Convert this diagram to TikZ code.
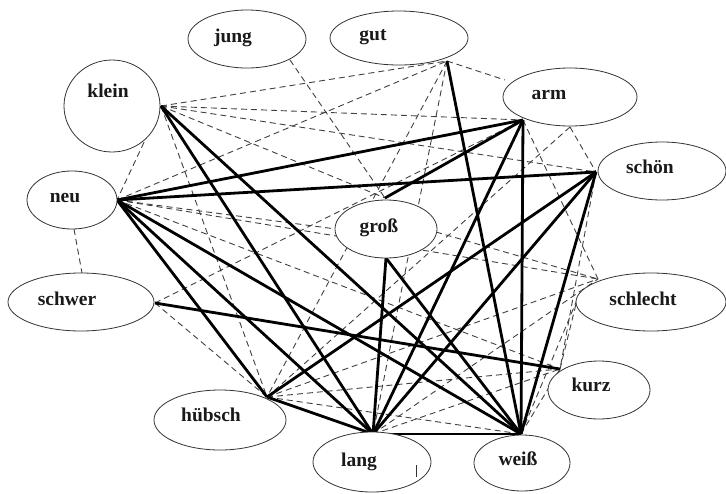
\documentclass[tikz,border=0pt]{standalone}
\usepackage{fontspec}
\setmainfont{Liberation Serif}
\usetikzlibrary{shapes.geometric}
\begin{document}
\begin{tikzpicture}[x=1pt,y=-1pt,
  bubble/.style={ellipse, draw=black!80, line width=0.8pt, fill=white, inner sep=0pt},
  word/.style={font=\fontsize{19.5}{21}\selectfont\bfseries, inner sep=0pt, anchor=base, text=black!90},
  strong/.style={line width=2.8pt, black},
  weak/.style={line width=0.9pt, black!75, dash pattern=on 6pt off 4pt}]
\useasboundingbox (0,0) rectangle (726,493);
% hub points
\coordinate (kleinH) at (161,106);
\coordinate (neuH) at (117,200);
\coordinate (neuB) at (74,229);
\coordinate (jungH) at (290,60);
\coordinate (gutH) at (447,61);
\coordinate (armH) at (523,120);
\coordinate (armB) at (570,127);
\coordinate (armL) at (505,80);
\coordinate (schoenH) at (596,172);
\coordinate (grossT) at (385,198);
\coordinate (grossB) at (386,258);
\coordinate (grossL) at (336,229);
\coordinate (grossR) at (436,232);
\coordinate (schwerH) at (155,303);
\coordinate (schwerT) at (82,273);
\coordinate (schlechtH) at (598,279);
\coordinate (schlechtL) at (577,300);
\coordinate (kurzH) at (560,369);
\coordinate (huebschH) at (267,397);
\coordinate (langH) at (373,434);
\coordinate (weissH) at (521,434);
% dashed connectors
\draw[weak] (kleinH) -- (neuH);
\draw[weak] (kleinH) -- (gutH);
\draw[weak] (kleinH) -- (armH);
\draw[weak] (kleinH) -- (schoenH);
\draw[weak] (kleinH) -- (grossT);
\draw[weak] (kleinH) -- (huebschH);
\draw[weak] (neuB) -- (schwerT);
\draw[weak] (neuH) -- (gutH);
\draw[weak] (neuH) -- (grossL);
\draw[weak] (neuH) -- (schlechtH);
\draw[weak] (neuH) -- (kurzH);
\draw[weak] (jungH) -- (grossT);
\draw[weak] (gutH) -- (armL);
\draw[weak] (gutH) -- (huebschH);
\draw[weak] (gutH) -- (langH);
\draw[weak] (armB) -- (schoenH);
\draw[weak] (armH) -- (schlechtH);
\draw[weak] (armB) -- (huebschH);
\draw[weak] (schwerH) -- (armH);
\draw[weak] (schoenH) -- (kurzH);
\draw[weak] (grossR) -- (schlechtH);
\draw[weak] (schwerH) -- (huebschH);
\draw[weak] (huebschH) -- (weissH);
\draw[weak] (huebschH) -- (kurzH);
\draw[weak] (huebschH) -- (schlechtH);
\draw[weak] (langH) -- (kurzH);
\draw[weak] (langH) -- (schlechtH);
\draw[weak] (weissH) -- (kurzH);
\draw[weak] (weissH) -- (schlechtL);
\draw[weak] (kurzH) -- (schlechtL);
% thick connectors
\draw[strong] (kleinH) -- (langH);
\draw[strong] (kleinH) -- (weissH);
\draw[strong] (neuH) -- (armH);
\draw[strong] (neuH) -- (schoenH);
\draw[strong] (neuH) -- (huebschH);
\draw[strong] (neuH) -- (langH);
\draw[strong] (neuH) -- (weissH);
\draw[strong] (gutH) -- (weissH);
\draw[strong] (armH) -- (grossT);
\draw[strong] (armH) -- (langH);
\draw[strong] (armH) -- (weissH);
\draw[strong] (schoenH) -- (huebschH);
\draw[strong] (schoenH) -- (langH);
\draw[strong] (schoenH) -- (weissH);
\draw[strong] (grossB) -- (langH);
\draw[strong] (grossB) -- (weissH);
\draw[strong] (schwerH) -- (kurzH);
\draw[strong] (huebschH) -- (langH);
\draw[strong] (langH) -- (weissH);
% ellipses
\node[bubble, minimum width=118pt, minimum height=58pt] (jung) at (247,39) {};
\node[bubble, minimum width=138pt, minimum height=54pt] (gut) at (399,38) {};
\node[bubble, minimum width=96pt, minimum height=92pt] (klein) at (112,106) {};
\node[bubble, minimum width=134pt, minimum height=58pt] (arm) at (570,97) {};
\node[bubble, minimum width=128pt, minimum height=58pt] (schoen) at (662,171) {};
\node[bubble, minimum width=90pt, minimum height=58pt] (neu) at (72,200) {};
\node[bubble, minimum width=102pt, minimum height=58pt] (gross) at (386,229) {};
\node[bubble, minimum width=146pt, minimum height=58pt] (schwer) at (81,302) {};
\node[bubble, minimum width=150pt, minimum height=58pt] (schlecht) at (651,302) {};
\node[bubble, minimum width=102pt, minimum height=58pt] (kurz) at (599,390) {};
\node[bubble, minimum width=132pt, minimum height=60pt] (huebsch) at (220,420) {};
\node[bubble, minimum width=118pt, minimum height=60pt] (lang) at (372,462) {};
\node[bubble, minimum width=96pt, minimum height=56pt] (weiss) at (522,463) {};
% labels
\node[word] (jungT) at (233,42) {jung};
\node[word] (gutT) at (373,40) {gut};
\node[word] (kleinT) at (108,97) {klein};
\node[word] (armT) at (549,99) {arm};
\node[word] (schoenT) at (650,173) {schön};
\node[word] (neuT) at (65,202) {neu};
\node[word] (grossT2) at (379,232) {groß};
\node[word] (schwerT2) at (67,305) {schwer};
\node[word] (schlechtT) at (643,305) {schlecht};
\node[word] (kurzT) at (591,391) {kurz};
\node[word] (huebschT) at (211,421) {hübsch};
\node[word] (langT) at (359,466) {lang};
\node[word] (weissT) at (518,465) {weiß};
% small stroke inside lang
\coordinate (tickA) at (416,465);
\coordinate (tickB) at (416,477);
\draw[line width=0.8pt, black!80] (tickA) -- (tickB);
\end{tikzpicture}
\end{document}
